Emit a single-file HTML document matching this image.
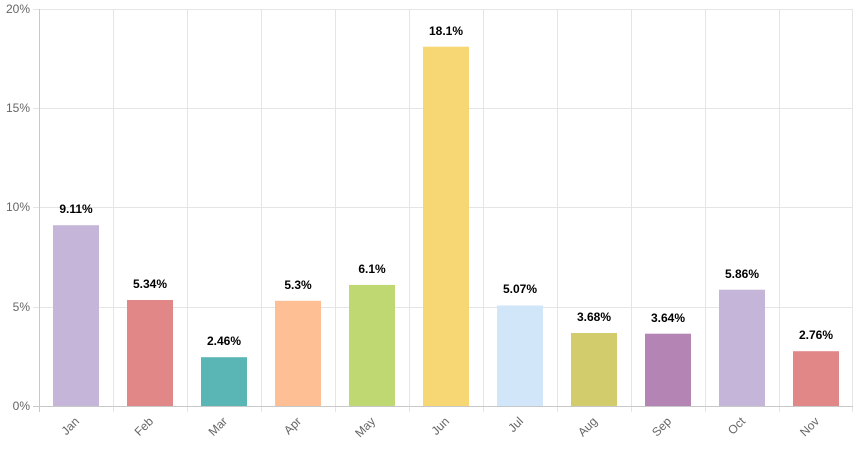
<!DOCTYPE html>
<html><head><meta charset="utf-8"><style>
html,body{margin:0;padding:0;background:#fff;}
svg{display:block;font-family:"Liberation Sans",Arial,sans-serif;}
</style></head><body>
<svg width="863" height="449" viewBox="0 0 863 449">
<g stroke="#e5e5e5" stroke-width="1">
<line x1="33" y1="9.5" x2="853" y2="9.5"/>
<line x1="33" y1="108.5" x2="853" y2="108.5"/>
<line x1="33" y1="207.5" x2="853" y2="207.5"/>
<line x1="33" y1="307.5" x2="853" y2="307.5"/>
<line x1="113.5" y1="9" x2="113.5" y2="412"/>
<line x1="187.5" y1="9" x2="187.5" y2="412"/>
<line x1="261.5" y1="9" x2="261.5" y2="412"/>
<line x1="335.5" y1="9" x2="335.5" y2="412"/>
<line x1="409.5" y1="9" x2="409.5" y2="412"/>
<line x1="483.5" y1="9" x2="483.5" y2="412"/>
<line x1="557.5" y1="9" x2="557.5" y2="412"/>
<line x1="631.5" y1="9" x2="631.5" y2="412"/>
<line x1="705.5" y1="9" x2="705.5" y2="412"/>
<line x1="779.5" y1="9" x2="779.5" y2="412"/>
<line x1="852.5" y1="9" x2="852.5" y2="412"/>
</g>
<g stroke="#c8c8c8"><line x1="39.5" y1="9" x2="39.5" y2="412"/><line x1="33" y1="406.5" x2="853" y2="406.5"/></g>
<g font-size="12" fill="#666" text-anchor="end">
<text x="30" y="13">20%</text><text x="30" y="112">15%</text><text x="30" y="211">10%</text><text x="30" y="311">5%</text><text x="30" y="410">0%</text>
</g>
<g>
<rect x="53" y="225.2" width="46" height="180.8" fill="#c5b5d8"/>
<rect x="127" y="300" width="46" height="106" fill="#e28787"/>
<rect x="201" y="357.2" width="46" height="48.8" fill="#5ab5b5"/>
<rect x="275" y="300.8" width="46" height="105.2" fill="#ffbf94"/>
<rect x="349" y="284.9" width="46" height="121.1" fill="#bfd872"/>
<rect x="423" y="46.7" width="46" height="359.3" fill="#f7d674"/>
<rect x="497" y="305.4" width="46" height="100.6" fill="#d1e6f9"/>
<rect x="571" y="333" width="46" height="73" fill="#d3cc6c"/>
<rect x="645" y="333.7" width="46" height="72.3" fill="#b484b4"/>
<rect x="719" y="289.7" width="46" height="116.3" fill="#c5b5d8"/>
<rect x="793" y="351.2" width="46" height="54.8" fill="#e28787"/>
</g>
<g font-size="12" font-weight="bold" fill="#000" text-anchor="middle">
<text x="76" y="213">9.11%</text><text x="150" y="288">5.34%</text><text x="224" y="345">2.46%</text>
<text x="298" y="289">5.3%</text><text x="372" y="273">6.1%</text><text x="446" y="35">18.1%</text>
<text x="520" y="293">5.07%</text><text x="594" y="321">3.68%</text><text x="668" y="322">3.64%</text>
<text x="742" y="278">5.86%</text><text x="816" y="339">2.76%</text>
</g>
<g font-size="12" fill="#666" text-anchor="end">
<text transform="translate(80,422) rotate(-45)">Jan</text>
<text transform="translate(154,422) rotate(-45)">Feb</text>
<text transform="translate(228,422) rotate(-45)">Mar</text>
<text transform="translate(302,422) rotate(-45)">Apr</text>
<text transform="translate(376,422) rotate(-45)">May</text>
<text transform="translate(450,422) rotate(-45)">Jun</text>
<text transform="translate(524,422) rotate(-45)">Jul</text>
<text transform="translate(598,422) rotate(-45)">Aug</text>
<text transform="translate(672,422) rotate(-45)">Sep</text>
<text transform="translate(746,422) rotate(-45)">Oct</text>
<text transform="translate(820,422) rotate(-45)">Nov</text>
</g>
</svg>
</body></html>
